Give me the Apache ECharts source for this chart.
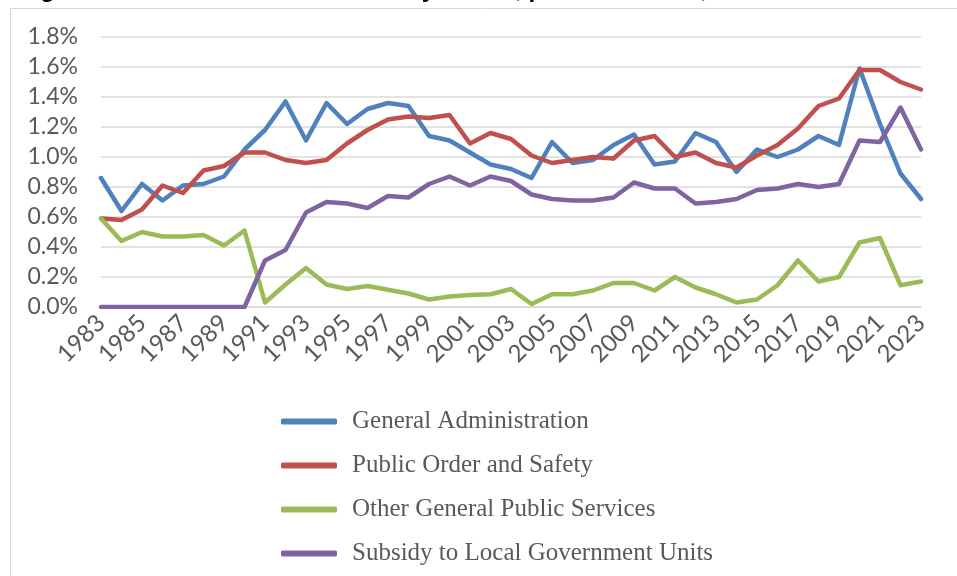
<!DOCTYPE html>
<html>
<head>
<meta charset="utf-8">
<script src="https://cdn.jsdelivr.net/npm/echarts@6/dist/echarts.min.js"></script>
<style>
  html, body { margin: 0; padding: 0; background: #fff; }
  #chart { width: 957px; height: 576px; }
</style>
</head>
<body>
<div id="chart"></div>
<script>
// years 1983-2023
var years = [];
for (var y = 1983; y <= 2023; y++) { years.push(String(y)); }

// percent of GDP
var generalAdmin = [0.86, 0.64, 0.82, 0.71, 0.81, 0.82, 0.87, 1.05, 1.18, 1.37,
    1.11, 1.36, 1.22, 1.32, 1.36, 1.34, 1.14, 1.11, 1.03, 0.95,
    0.92, 0.86, 1.10, 0.96, 0.98, 1.08, 1.15, 0.95, 0.97, 1.16,
    1.10, 0.90, 1.05, 1.00, 1.05, 1.14, 1.08, 1.59, 1.22, 0.89, 0.72];
var publicOrder = [0.59, 0.58, 0.65, 0.81, 0.76, 0.91, 0.94, 1.03, 1.03, 0.98,
    0.96, 0.98, 1.09, 1.18, 1.25, 1.27, 1.26, 1.28, 1.09, 1.16,
    1.12, 1.01, 0.96, 0.98, 1.00, 0.99, 1.11, 1.14, 1.00, 1.03,
    0.96, 0.93, 1.01, 1.08, 1.19, 1.34, 1.39, 1.58, 1.58, 1.50, 1.45];
var otherGps = [0.59, 0.44, 0.50, 0.47, 0.47, 0.48, 0.41, 0.51, 0.03, 0.15,
    0.26, 0.15, 0.12, 0.14, 0.115, 0.09, 0.05, 0.07, 0.08, 0.085,
    0.12, 0.02, 0.085, 0.085, 0.11, 0.16, 0.16, 0.11, 0.20, 0.13,
    0.085, 0.03, 0.05, 0.145, 0.31, 0.17, 0.20, 0.43, 0.46, 0.145, 0.17];
var subsidyLgu = [0, 0, 0, 0, 0, 0, 0, 0, 0.31, 0.38,
    0.63, 0.70, 0.69, 0.66, 0.74, 0.73, 0.82, 0.87, 0.81, 0.87,
    0.84, 0.75, 0.72, 0.71, 0.71, 0.73, 0.83, 0.79, 0.79, 0.69,
    0.70, 0.72, 0.78, 0.79, 0.82, 0.80, 0.82, 1.11, 1.10, 1.33, 1.05];

var seriesNames = ['General Administration', 'Public Order and Safety',
    'Other General Public Services', 'Subsidy to Local Government Units'];
var colors = ['#4F81BD', '#C0504D', '#9BBB59', '#8064A2'];

var chart = echarts.init(document.getElementById('chart'));

function line(name, data, color) {
    return {
        name: name,
        type: 'line',
        data: data,
        symbol: 'none',
        color: color,
        lineStyle: { width: 4.5, color: color, cap: 'round', join: 'round' },
        emphasis: { disabled: true }
    };
}

chart.setOption({
    animation: false,
    title: {
        text: 'Figure 4: General Public Services by Sector, percent of GDP, 1983-2023',
        left: 14,
        top: -27,
        textStyle: { fontFamily: 'Liberation Sans', fontWeight: 'bold', fontSize: 24, color: '#000' }
    },
    graphic: [{
        type: 'rect',
        shape: { x: 10.5, y: 8.5, width: 1000, height: 700 },
        style: { fill: 'none', stroke: '#d9d9d9', lineWidth: 1 },
        z: -1
    }],
    grid: { left: 101, right: 36, top: 37, bottom: 269 },
    legend: {
        orient: 'vertical',
        left: 276,
        top: 404,
        itemWidth: 56,
        itemHeight: 6,
        itemGap: 19,
        icon: 'roundRect',
        data: seriesNames,
        textStyle: {
            fontFamily: 'Liberation Serif',
            fontSize: 25,
            color: '#595959',
            padding: [0, 0, 0, 10]
        }
    },
    xAxis: {
        type: 'category',
        data: years,
        boundaryGap: false,
        axisTick: { show: false },
        axisLine: { lineStyle: { color: '#d9d9d9', width: 1.5 } },
        axisLabel: {
            interval: 1,
            rotate: 45,
            margin: 12,
            fontFamily: 'Lato',
            fontSize: 24,
            color: '#595959'
        }
    },
    yAxis: {
        type: 'value',
        min: 0,
        max: 1.8,
        interval: 0.2,
        axisLine: { show: false },
        axisTick: { show: false },
        splitLine: { lineStyle: { color: '#d9d9d9', width: 1.5 } },
        axisLabel: {
            margin: 23,
            fontFamily: 'Lato',
            fontSize: 23,
            color: '#595959',
            formatter: function(v) { return v.toFixed(1) + '%'; }
        }
    },
    series: [
        line(seriesNames[0], generalAdmin, colors[0]),
        line(seriesNames[1], publicOrder, colors[1]),
        line(seriesNames[2], otherGps, colors[2]),
        line(seriesNames[3], subsidyLgu, colors[3])
    ]
});
</script>
</body>
</html>
